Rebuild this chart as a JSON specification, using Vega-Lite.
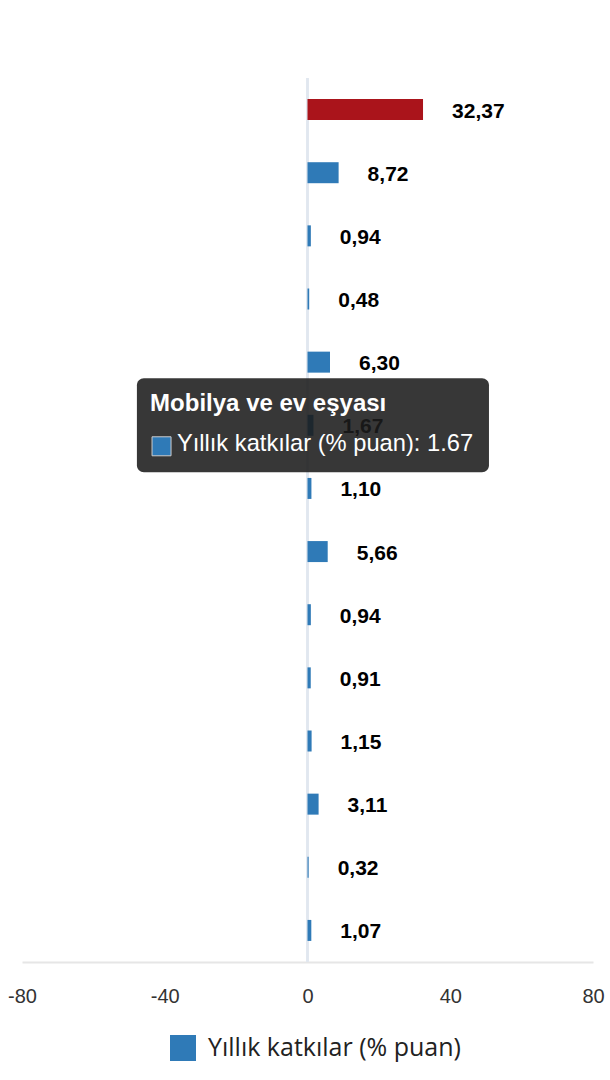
{
  "$schema": "https://vega.github.io/schema/vega-lite/v6.json",
  "width": 571,
  "height": 884,
  "autosize": {"type": "none"},
  "padding": {"left": 22, "top": 78, "right": 17, "bottom": 118},
  "background": "white",
  "config": {
    "view": {"stroke": null},
    "locale": {"number": {"decimal": ",", "thousands": ".", "grouping": [3], "currency": ["", " TL"], "minus": "-"}}
  },
  "datasets": {
    "katkilar": [
      {"kategori": "Genel", "deger": 32.37, "seri": "Yıllık katkılar (% puan)"},
      {"kategori": "Gıda ve alkolsüz içecekler", "deger": 8.72, "seri": "Yıllık katkılar (% puan)"},
      {"kategori": "Alkollü içecekler ve tütün", "deger": 0.94, "seri": "Yıllık katkılar (% puan)"},
      {"kategori": "Giyim ve ayakkabı", "deger": 0.48, "seri": "Yıllık katkılar (% puan)"},
      {"kategori": "Konut", "deger": 6.30, "seri": "Yıllık katkılar (% puan)"},
      {"kategori": "Mobilya ve ev eşyası", "deger": 1.67, "seri": "Yıllık katkılar (% puan)"},
      {"kategori": "Sağlık", "deger": 1.10, "seri": "Yıllık katkılar (% puan)"},
      {"kategori": "Ulaştırma", "deger": 5.66, "seri": "Yıllık katkılar (% puan)"},
      {"kategori": "Bilgi ve iletişim", "deger": 0.94, "seri": "Yıllık katkılar (% puan)"},
      {"kategori": "Eğlence, spor ve kültür", "deger": 0.91, "seri": "Yıllık katkılar (% puan)"},
      {"kategori": "Eğitim hizmetleri", "deger": 1.15, "seri": "Yıllık katkılar (% puan)"},
      {"kategori": "Lokanta ve konaklama hizmetleri", "deger": 3.11, "seri": "Yıllık katkılar (% puan)"},
      {"kategori": "Sigorta ve finansal hizmetler", "deger": 0.32, "seri": "Yıllık katkılar (% puan)"},
      {"kategori": "Kişisel bakım ve çeşitli mal ve hizmetler", "deger": 1.07, "seri": "Yıllık katkılar (% puan)"}
    ],
    "ipucu": [
      {"kategori": "Mobilya ve ev eşyası", "baslik": "Mobilya ve ev eşyası", "satir": "Yıllık katkılar (% puan): 1.67"}
    ]
  },
  "encoding": {
    "x": {
      "type": "quantitative",
      "scale": {"domain": [-80, 80], "nice": false, "zero": false},
      "axis": {
        "values": [-80, -40, 0, 40, 80],
        "title": null,
        "grid": false,
        "ticks": false,
        "tickSize": 0,
        "labelFlush": false,
        "labelOverlap": false,
        "domainColor": "#e6e6e6",
        "domainWidth": 2,
        "labelFont": "Liberation Sans",
        "labelFontSize": 20,
        "labelColor": "#333333",
        "labelPadding": 24
      }
    },
    "y": {
      "field": "kategori",
      "type": "nominal",
      "sort": null,
      "axis": null
    }
  },
  "layer": [
    {
      "data": {"name": "katkilar"},
      "mark": {"type": "rule", "color": "#e1e7ef", "strokeWidth": 2},
      "encoding": {"x": {"datum": 0}, "y": null}
    },
    {
      "data": {"name": "katkilar"},
      "mark": {"type": "bar", "size": 21},
      "encoding": {
        "x": {"field": "deger"},
        "color": {
          "condition": {"test": "datum.kategori === 'Genel'", "value": "#aa141b"},
          "field": "seri",
          "type": "nominal",
          "scale": {"range": ["#2f7ab7"]},
          "legend": {
            "orient": "none",
            "legendX": 148,
            "legendY": 957,
            "title": null,
            "padding": 0,
            "symbolType": "square",
            "symbolSize": 676,
            "symbolStrokeWidth": 0,
            "symbolOpacity": 1,
            "labelFont": "Open Sans",
            "labelFontSize": 25,
            "labelColor": "#222222",
            "labelOffset": 12,
            "labelLimit": 500
          }
        },
        "tooltip": [
          {"field": "kategori", "type": "nominal", "title": "Kategori"},
          {"field": "deger", "type": "quantitative", "title": "Yıllık katkılar (% puan)", "format": ".2f"}
        ]
      }
    },
    {
      "data": {"name": "katkilar"},
      "mark": {
        "type": "text",
        "align": "left",
        "baseline": "middle",
        "dx": 29,
        "dy": 2,
        "font": "Liberation Sans",
        "fontSize": 21,
        "fontWeight": "bold",
        "color": "#000000"
      },
      "encoding": {
        "x": {"field": "deger"},
        "text": {"field": "deger", "type": "quantitative", "format": ".2f"}
      }
    },
    {
      "data": {"name": "ipucu"},
      "mark": {"type": "bar", "height": 94, "cornerRadius": 7, "color": "#1b1b1b", "opacity": 0.88},
      "encoding": {"x": {"datum": -47.8}, "x2": {"datum": 50.85}}
    },
    {
      "data": {"name": "ipucu"},
      "mark": {
        "type": "text",
        "align": "left",
        "baseline": "middle",
        "dy": -21,
        "font": "Liberation Sans",
        "fontSize": 24,
        "fontWeight": "bold",
        "color": "#ffffff"
      },
      "encoding": {"x": {"datum": -44.1}, "text": {"field": "baslik"}}
    },
    {
      "data": {"name": "ipucu"},
      "mark": {
        "type": "point",
        "shape": "square",
        "filled": true,
        "size": 361,
        "yOffset": 21,
        "color": "#2f7ab7",
        "opacity": 1,
        "stroke": "#cccccc",
        "strokeWidth": 1
      },
      "encoding": {"x": {"datum": -40.9}}
    },
    {
      "data": {"name": "ipucu"},
      "mark": {
        "type": "text",
        "align": "left",
        "baseline": "middle",
        "dy": 19,
        "font": "Liberation Sans",
        "fontSize": 23.7,
        "color": "#ffffff"
      },
      "encoding": {"x": {"datum": -36.6}, "text": {"field": "satir"}}
    }
  ]
}
